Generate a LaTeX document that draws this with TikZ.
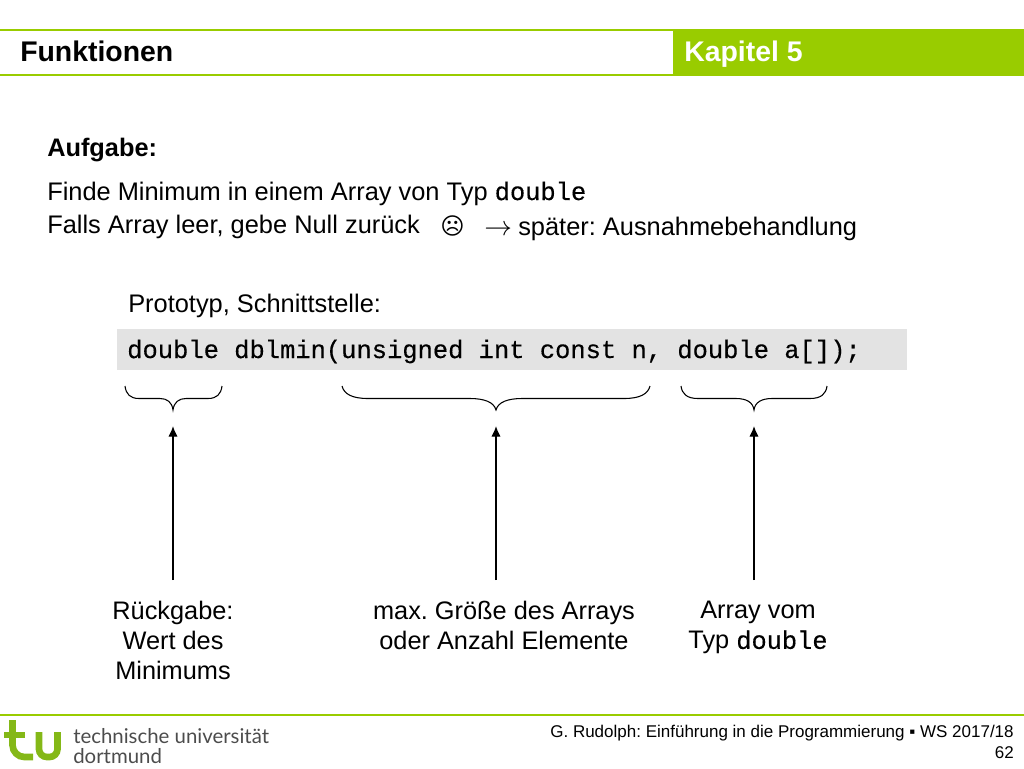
\documentclass[tikz,border=0pt]{standalone}
\usepackage{fontspec}
\setmainfont{Liberation Sans}
\setmonofont[FakeBold=0.35]{Liberation Mono}
\newfontfamily\symfont{DejaVu Sans}
\newfontfamily\logofont{Lato}
\usetikzlibrary{arrows.meta}
\definecolor{kapgreen}{HTML}{99CC00}
\definecolor{logogreen}{HTML}{84B817}
\definecolor{codegray}{HTML}{E3E3E3}
\frenchspacing
\tikzset{
    body/.style={anchor=base west,inner sep=0pt,font=\fontsize{19.05}{23}\selectfont},
    caption/.style={anchor=north,inner sep=0pt,align=center,font=\fontsize{19}{22.6}\selectfont},
    headline/.style={anchor=base west,inner sep=0pt,font=\fontsize{21.3}{25}\selectfont\bfseries},
    logotext/.style={anchor=base west,inner sep=0pt,text=black!70,font=\logofont\fontsize{15.3}{17}\selectfont},
    footer/.style={anchor=base east,inner sep=0pt,font=\fontsize{12.75}{15}\selectfont},
    curly/.style={line width=0.8pt},
    pointer/.style={-{Latex[length=8pt,width=7pt]},line width=1pt}
}
\begin{document}
\begin{tikzpicture}[x=0.75pt,y=-0.75pt]
    \useasboundingbox (0,0) rectangle (1024,768);
    % header
    \fill [kapgreen] (673,29) rectangle (1024,75);
    \draw [kapgreen,line width=1.5pt] (0,29.5) -- (1024,29.5);
    \draw [kapgreen,line width=1.5pt] (0,74.5) -- (1024,74.5);
    \node [headline] (title) at (20,61) {Funktionen};
    \node [headline,text=white] (chapter) at (684,61) {Kapitel 5};

    % task
    \node [body,font=\fontsize{19}{23}\selectfont\bfseries] (task) at (47,156) {Aufgabe:};
    \node [body] (find) at (47,200) {Finde Minimum in einem Array von Typ \texttt{double}};
    \node [body] (empty) at (47,233) {Falls Array leer, gebe Null zurück};
    \node [body,font=\symfont\fontsize{17.5}{23}\selectfont] (frown) at (440,234) {☹};
    \node [body] (toarrow) at (484,235) {$\rightarrow$};
    \node [body] (later) at (518,235) {später: Ausnahmebehandlung};

    % prototype
    \node [body] (proto) at (128,312) {Prototyp, Schnittstelle:};
    \fill [codegray] (117,329) rectangle (907,370);
    \node [body,font=\ttfamily\fontsize{19.1}{23}\selectfont] (code) at (127,358) {double dblmin(unsigned int const n, double a[]);};

    % braces
    \draw [curly] (125,386) .. controls (126,394) and (130,398.5) .. (139,398.5) -- (160,398.5)
        .. controls (167,398.5) and (172,402) .. (173,410) .. controls (174,402) and (179,398.5) .. (186,398.5)
        -- (208,398.5) .. controls (217,398.5) and (221,394) .. (222,386);
    \draw [curly] (342,386) .. controls (344,394) and (352,398.5) .. (368,398.5) -- (470,398.5)
        .. controls (484,398.5) and (494,402) .. (496,410) .. controls (498,402) and (508,398.5) .. (522,398.5)
        -- (624,398.5) .. controls (640,398.5) and (648,394) .. (650,386);
    \draw [curly] (681,386) .. controls (682,394) and (687,398.5) .. (698,398.5) -- (736,398.5)
        .. controls (746,398.5) and (753,402) .. (754,410) .. controls (755,402) and (762,398.5) .. (772,398.5)
        -- (810,398.5) .. controls (821,398.5) and (826,394) .. (827,386);

    % captions
    \node [caption] (ret) at (173,601) {Rückgabe:\\Wert des\\Minimums};
    \node [caption] (size) at (504,601) {max. Größe des Arrays\\oder Anzahl Elemente};
    \node [caption] (arr) at (758,601) {Array vom\\Typ \texttt{double}};

    \coordinate (retfoot) at (173,580);
    \coordinate (sizefoot) at (496,580);
    \coordinate (arrfoot) at (754,580);
    \coordinate (rettip) at (173,426);
    \coordinate (sizetip) at (496,426);
    \coordinate (arrtip) at (754,426);
    \draw [pointer] (retfoot) -- (rettip);
    \draw [pointer] (sizefoot) -- (sizetip);
    \draw [pointer] (arrfoot) -- (arrtip);

    % footer
    \draw [kapgreen,line width=1.5pt] (0,715) -- (1024,715);
    \draw [logogreen,line width=5pt] (4,735) -- (25,735);
    \draw [logogreen,line width=5pt,rounded corners=9pt] (12.5,720) |- (33,757);
    \draw [logogreen,line width=5pt,rounded corners=6pt] (39,732) |- (57.5,757) -- (57.5,732);
    \node [logotext] (uni) at (73,743) {technische universität};
    \node [logotext] (dort) at (73,763) {dortmund};
    \node [footer] (lecture) at (1014,737) {G. Rudolph: Einführung in die Programmierung ▪ WS 2017/18};
    \node [footer] (page) at (1014,758) {62};
\end{tikzpicture}
\end{document}
